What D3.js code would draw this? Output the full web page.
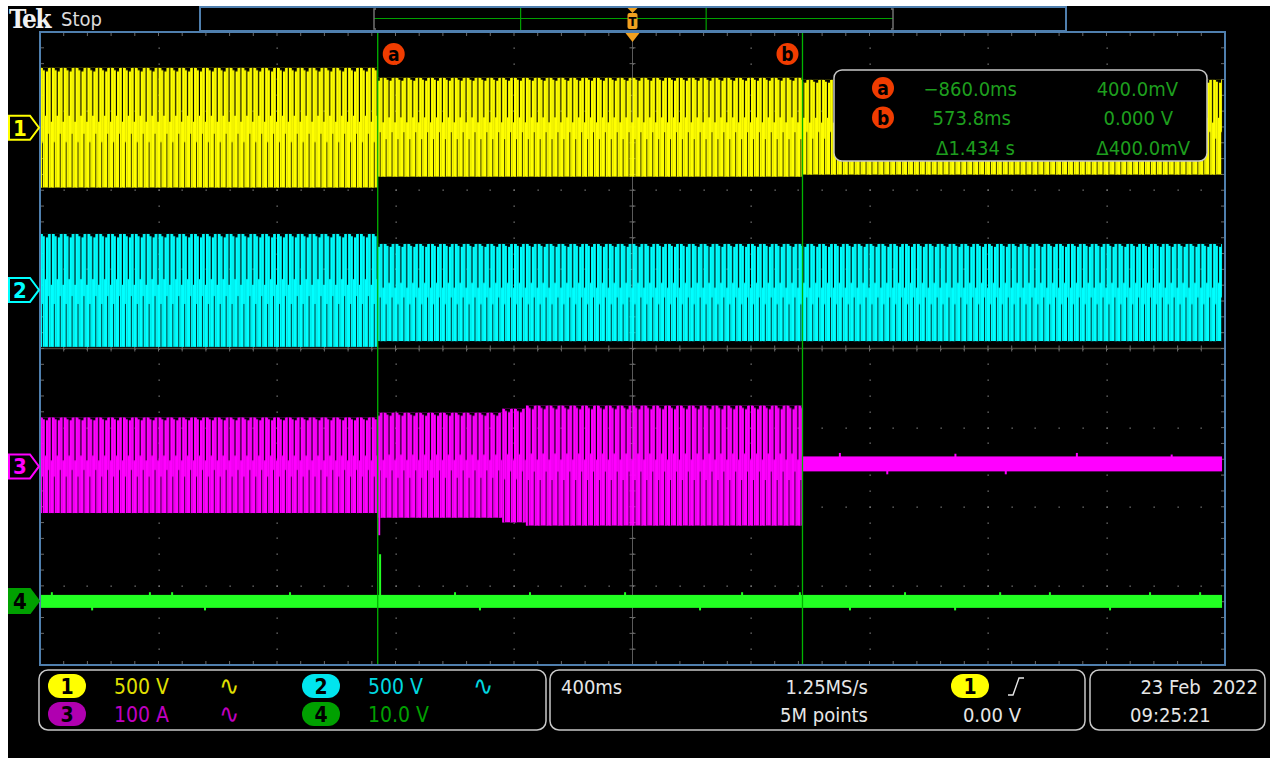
<!DOCTYPE html>
<html><head><meta charset="utf-8">
<script src="https://cdn.jsdelivr.net/npm/d3@7"></script>
<style>
html,body{margin:0;padding:0;background:#fff;}
svg{display:block}
text{font-family:"DejaVu Sans Condensed","DejaVu Sans",sans-serif;font-stretch:condensed;}
</style>
</head><body>
<svg id="c" width="1280" height="764"></svg>
<script>
// ================= DATA =================
const channelNames   = ["1", "2", "3", "4"];
const channelColors  = ["#ffff00", "#00ffff", "#ff00ff", "#22ff22"];
const badgeColors    = ["#ffff00", "#00e5ee", "#b000b0", "#00a000"];
const labelColors    = ["#e0e000", "#00d8e0", "#c000c0", "#00a000"];
const scaleLabels    = ["500 V", "500 V", "100 A", "10.0 V"];
const unitsPerDiv    = [500, 500, 100, 10];
const positionDiv    = [2.79, 0.74, -1.49, -3.19];   // channel ground marker (divisions from centre)

const timeDomainMs   = [-2000, 2000];                // 400 ms/div, 10 divisions
const cursorTimesMs  = [-860.0, 573.8];
const cursorLabels   = ["a", "b"];

// Envelope segments (piecewise constant): segment i spans times[i]..times[i+1]
const ch1Times = [-2000, -860, 573.8, 1990];
const ch1Hi    = [379, 316, 303];
const ch1Lo    = [-379, -310, -297];

const ch2Times = [-2000, -860, 1990];
const ch2Hi    = [354, 291];
const ch2Lo    = [-360, -324];

const ch3Times = [-2000, -860, -440, -360, 573.8, 1990];
const ch3Hi    = [62, 68, 73, 77, 12.6];
const ch3Lo    = [-59, -65, -71, -75, -6.3];

const ch4Times = [-2000, 1990];
const ch4Hi    = [0.76];
const ch4Lo    = [-0.88];

// Glitches (time ms, value)
const ch3SpikeT = [-855, 700, 860, 1090, 1260, 1500, 1820];
const ch3SpikeV = [-87, 17, -10, 16, -10, 17, 15];
const ch4SpikeT = [-1960, -1824, -1629, -1554, -1443, -1156, -852, -599, -515, -346, -25, 228, 370, 565, 734, 920, 1089, 1241, 1409, 1612, 1747, 1916];
const ch4SpikeV = [1.1, -1.2, 1.1, 1.1, -1.2, 1.1, 5.9, 1.1, -1.2, 1.1, 1.1, -1.2, 1.1, 1.1, -1.2, 1.1, -1.2, 1.1, 1.1, -1.2, 1.1, 1.1];

const readoutRows = [
  ["a", "\u2212860.0ms", "400.0mV"],
  ["b", "573.8ms", "0.000 V"],
  ["",  "\u0394" + "1.434 s", "\u0394" + "400.0mV"]
];
const horizLabels  = ["400ms", "1.25MS/s", "5M points"];
const trigLabels   = ["1", "0.00 V"];
const dateLabels   = ["23 Feb  2022", "09:25:21"];

// ================= LAYOUT =================
const svg = d3.select("#c");
const G = {x0: 40, x1: 1225, y0: 32, y1: 665};
const nDivX = 10, nDivY = 8;
const divW = (G.x1 - G.x0) / nDivX, divH = (G.y1 - G.y0) / nDivY;
const x = d3.scaleLinear().domain(timeDomainMs).range([G.x0, G.x1]);
const yDiv = d3.scaleLinear().domain([-nDivY/2, nDivY/2]).range([G.y1, G.y0]);
const yCh = i => v => yDiv(positionDiv[i] + v / unitsPerDiv[i]);

// screen background
svg.append("rect").attr("x", 8).attr("y", 6).attr("width", 1262).attr("height", 752).attr("fill", "#000");

// Tek Stop
svg.append("text").attr("x", 9).attr("y", 28).attr("fill", "#f2f2f2")
  .style("font-family", "'DejaVu Serif','Liberation Serif',serif").style("font-weight", "bold")
  .style("font-size", "26px").style("letter-spacing", "-1.5px").text("Tek");
svg.append("text").attr("x", 61).attr("y", 26).attr("fill", "#dcdcdc").style("font-size", "20px").text("Stop");

// record view bar
svg.append("rect").attr("x", 200).attr("y", 7).attr("width", 866).attr("height", 24)
  .attr("fill", "#000").attr("stroke", "#4f7fae").attr("stroke-width", 2);
const recX = d3.scaleLinear().domain([-1, 1]).range([374, 893]);
svg.append("line").attr("x1", recX(-1)).attr("x2", recX(1)).attr("y1", 18.5).attr("y2", 18.5).attr("stroke", "#00a000").attr("stroke-width", 1.2);
[-1, 1].forEach(s => {
  svg.append("path").attr("d", `M${recX(s) - 2*s},9 L${recX(s)},9 L${recX(s)},29 L${recX(s) - 2*s},29`)
    .attr("fill", "none").attr("stroke", "#707070").attr("stroke-width", 1.5);
});
[-0.435, 0.28].forEach(v => {
  svg.append("line").attr("x1", recX(v)).attr("x2", recX(v)).attr("y1", 8).attr("y2", 30).attr("stroke", "#00a000").attr("stroke-width", 1.2);
});
const tX = x(0);
svg.append("path").attr("d", `M${tX-5},8 L${tX+5},8 L${tX},13 Z`).attr("fill", "#f0a020");
svg.append("rect").attr("x", tX-5).attr("y", 13).attr("width", 10).attr("height", 16).attr("rx", 2).attr("fill", "#f0a020");
svg.append("text").attr("x", tX).attr("y", 26).attr("text-anchor", "middle").attr("fill", "#000").style("font-size", "13px").style("font-weight", "bold").text("T");

// graticule
const grat = svg.append("g");
grat.append("rect").attr("x", G.x0).attr("y", G.y0).attr("width", G.x1 - G.x0).attr("height", G.y1 - G.y0).attr("fill", "#000");
const dotColor = "#7a7a7a";
const dots = [];
for (let i = 1; i < nDivX; i++) for (let j = 1; j < nDivY * 5; j++) dots.push([G.x0 + i*divW, G.y0 + j*divH/5]);
for (let k = 1; k < nDivY; k++) for (let j = 1; j < nDivX * 5; j++) dots.push([G.x0 + j*divW/5, G.y0 + k*divH]);
grat.selectAll("rect.dot").data(dots).join("rect").attr("class", "dot")
  .attr("x", d => Math.round(d[0]) - 0.5).attr("y", d => Math.round(d[1]) - 0.5).attr("width", 1.3).attr("height", 1.3).attr("fill", dotColor);
// center lines
grat.append("line").attr("x1", tX).attr("x2", tX).attr("y1", G.y0).attr("y2", G.y1).attr("stroke", "#5a5a5a").attr("stroke-width", 1);
grat.append("line").attr("x1", G.x0).attr("x2", G.x1).attr("y1", yDiv(0)).attr("y2", yDiv(0)).attr("stroke", "#4a463a").attr("stroke-width", 1.5);
const ticks = [];
for (let j = 1; j < nDivX * 5; j++) { const xx = G.x0 + j*divW/5; ticks.push([xx, G.y0, xx, G.y0 + 4]); ticks.push([xx, G.y1, xx, G.y1 - 4]); ticks.push([xx, yDiv(0)-3, xx, yDiv(0)+3]); }
for (let j = 1; j < nDivY * 5; j++) { const yy = G.y0 + j*divH/5; ticks.push([G.x0, yy, G.x0 + 4, yy]); ticks.push([G.x1, yy, G.x1 - 4, yy]); ticks.push([tX-3, yy, tX+3, yy]); }
grat.selectAll("line.tk").data(ticks).join("line").attr("class", "tk")
  .attr("x1", d => d[0]).attr("y1", d => d[1]).attr("x2", d => d[2]).attr("y2", d => d[3])
  .attr("stroke", "#6a6a6a").attr("stroke-width", 1);

// ================= WAVEFORMS =================
const defs = svg.append("defs");
const period = divW / 20;          // ~50 Hz carrier at 400 ms/div (display texture only)
const wave = svg.append("g");
const envData = [
  [ch1Times, ch1Hi, ch1Lo],
  [ch2Times, ch2Hi, ch2Lo],
  [ch3Times, ch3Hi, ch3Lo],
  [ch4Times, ch4Hi, ch4Lo]
];
envData.forEach(([times, hi, lo], ci) => {
  const y = yCh(ci);
  hi.forEach((h, si) => {
    const xa = x(times[si]), xb = x(times[si + 1]);
    const top = y(h), bot = y(lo[si]), H = bot - top;
    const col = channelColors[ci];
    if (H < 20) {
      wave.append("rect").attr("x", xa).attr("y", top).attr("width", xb - xa).attr("height", H).attr("fill", col);
      return;
    }
    const pid = `p${ci}_${si}`;
    const w = period * 2;   // two-cycle tile with slightly differing strokes (aliasing look)
    const p = defs.append("pattern").attr("id", pid).attr("patternUnits", "userSpaceOnUse")
      .attr("x", G.x0).attr("y", top).attr("width", w).attr("height", H);
    const parts = [
      // [x, width, yFrac, hFrac]
      [0.00, 0.17, 0.00, 1.00],
      [0.17, 0.07, 0.00, 0.62],
      [0.24, 0.16, 0.02, 0.98],
      [0.40, 0.10, 0.40, 0.60],
      [0.50, 0.17, 0.03, 0.97],
      [0.67, 0.07, 0.00, 0.55],
      [0.74, 0.16, 0.00, 1.00],
      [0.90, 0.10, 0.45, 0.55]
    ];
    parts.forEach(q => p.append("rect").attr("x", q[0]*w).attr("width", q[1]*w + 0.05)
      .attr("y", q[2]*H).attr("height", q[3]*H).attr("fill", col));
    wave.append("rect").attr("x", xa).attr("y", top).attr("width", xb - xa).attr("height", H).attr("fill", `url(#${pid})`);
  });
});
// glitches
const y3 = yCh(2), y4 = yCh(3);
wave.selectAll("line.s3").data(ch3SpikeT.map((t, i) => [t, ch3SpikeV[i]])).join("line").attr("class", "s3")
  .attr("x1", d => x(d[0])).attr("x2", d => x(d[0])).attr("y1", y3(0)).attr("y2", d => y3(d[1]))
  .attr("stroke", channelColors[2]).attr("stroke-width", 2);
wave.selectAll("line.s4").data(ch4SpikeT.map((t, i) => [t, ch4SpikeV[i]])).join("line").attr("class", "s4")
  .attr("x1", d => x(d[0])).attr("x2", d => x(d[0])).attr("y1", y4(0)).attr("y2", d => y4(d[1]))
  .attr("stroke", channelColors[3]).attr("stroke-width", 2);

// border
svg.append("rect").attr("x", G.x0).attr("y", G.y0).attr("width", G.x1 - G.x0).attr("height", G.y1 - G.y0)
  .attr("fill", "none").attr("stroke", "#4f7fae").attr("stroke-width", 2);

// trigger arrow below border
svg.append("path").attr("d", `M${tX-7},33 L${tX+7},33 L${tX},42 Z`).attr("fill", "#f0a020");

// cursors
cursorTimesMs.forEach((t, i) => {
  const cx = x(t);
  svg.append("line").attr("x1", cx).attr("x2", cx).attr("y1", G.y0 + 1).attr("y2", G.y1 - 1).attr("stroke", "#00b400").attr("stroke-width", 1.3);
  svg.append("circle").attr("cx", cx + (i === 0 ? 16 : -15)).attr("cy", 54).attr("r", 11).attr("fill", "#f03c00");
  svg.append("text").attr("x", cx + (i === 0 ? 16 : -15)).attr("y", 61).attr("text-anchor", "middle").attr("fill", "#000")
    .style("font-size", "19px").style("font-weight", "bold").text(cursorLabels[i]);
});

// channel markers
channelNames.forEach((n, i) => {
  const yy = yDiv(positionDiv[i]);
  const filled = i === 3;
  svg.append("path").attr("d", `M9,${yy-12} L30,${yy-12} L39,${yy} L30,${yy+12} L9,${yy+12} Z`)
    .attr("fill", filled ? badgeColors[i] : "#000").attr("stroke", filled ? badgeColors[i] : channelColors[i]).attr("stroke-width", 2);
  svg.append("text").attr("x", 20).attr("y", yy + 8).attr("text-anchor", "middle")
    .attr("fill", filled ? "#000" : channelColors[i]).style("font-size", "22px").style("font-weight", "bold").text(n);
});

// cursor readout box
const rb = svg.append("g");
rb.append("rect").attr("x", 834).attr("y", 70).attr("width", 373).attr("height", 91).attr("rx", 8)
  .attr("fill", "#000").attr("stroke", "#c8c8c8").attr("stroke-width", 1.5);
const rowY = d3.scalePoint().domain([0, 1, 2]).range([88, 147]);
const col1End = [1017, 1011, 1015], col2End = [1178, 1173, 1190];
readoutRows.forEach((r, i) => {
  const yy = rowY(i);
  if (r[0]) {
    rb.append("circle").attr("cx", 883).attr("cy", yy).attr("r", 11).attr("fill", "#f03c00");
    rb.append("text").attr("x", 883).attr("y", yy + 7).attr("text-anchor", "middle").attr("fill", "#000")
      .style("font-size", "19px").style("font-weight", "bold").text(r[0]);
  }
  rb.append("text").attr("x", col1End[i]).attr("y", yy + 7.5).attr("text-anchor", "end").attr("fill", "#1e9e1e").style("font-size", "20px").text(r[1]);
  rb.append("text").attr("x", col2End[i]).attr("y", yy + 7.5).attr("text-anchor", "end").attr("fill", "#1e9e1e").style("font-size", "20px").text(r[2]);
});

// ================= STATUS BAR =================
const sb = svg.append("g");
const boxStroke = "#c8c8c8";
[[39, 546], [550, 1085], [1090, 1265]].forEach(b => {
  sb.append("rect").attr("x", b[0]).attr("y", 670).attr("width", b[1] - b[0]).attr("height", 60).attr("rx", 9)
    .attr("fill", "#000").attr("stroke", boxStroke).attr("stroke-width", 1.5);
});
const row1 = 686, row2 = 714;
const chSlot = [[48, row1], [302, row1], [48, row2], [302, row2]];
channelNames.forEach((n, i) => {
  const [bx, by] = chSlot[i];
  sb.append("rect").attr("x", bx).attr("y", by - 12).attr("width", 38).attr("height", 24).attr("rx", 12).attr("fill", badgeColors[i]);
  sb.append("text").attr("x", bx + 19).attr("y", by + 8).attr("text-anchor", "middle").attr("fill", "#000").style("font-size", "21px").style("font-weight", "bold").text(n);
  sb.append("text").attr("x", bx + 66).attr("y", by + 8).attr("fill", labelColors[i]).style("font-size", "21px").text(scaleLabels[i]);
  if (i < 3) sb.append("text").attr("x", bx + 171).attr("y", by + 9).attr("fill", labelColors[i]).style("font-size", "27px").text("\u223F");
});
const wt = "#e6e6e6";
sb.append("text").attr("x", 561).attr("y", row1 + 8).attr("fill", wt).style("font-size", "20px").text(horizLabels[0]);
sb.append("text").attr("x", 868).attr("y", row1 + 8).attr("text-anchor", "end").attr("fill", wt).style("font-size", "20px").text(horizLabels[1]);
sb.append("text").attr("x", 868).attr("y", row2 + 8).attr("text-anchor", "end").attr("fill", wt).style("font-size", "20px").text(horizLabels[2]);
sb.append("rect").attr("x", 951).attr("y", row1 - 12).attr("width", 38).attr("height", 24).attr("rx", 12).attr("fill", "#ffff00");
sb.append("text").attr("x", 970).attr("y", row1 + 8).attr("text-anchor", "middle").attr("fill", "#000").style("font-size", "21px").style("font-weight", "bold").text(trigLabels[0]);
sb.append("path").attr("d", `M1008,${row1+9} L1013,${row1+9} L1019,${row1-8} L1024,${row1-8}`).attr("fill", "none").attr("stroke", wt).attr("stroke-width", 1.4);
sb.append("text").attr("x", 1021).attr("y", row2 + 8).attr("text-anchor", "end").attr("fill", wt).style("font-size", "20px").text(trigLabels[1]);
sb.append("text").attr("x", 1258).attr("y", row1 + 8).attr("text-anchor", "end").attr("fill", wt).style("font-size", "20px").style("white-space", "pre").text(dateLabels[0]);
sb.append("text").attr("x", 1130).attr("y", row2 + 8).attr("fill", wt).style("font-size", "20px").text(dateLabels[1]);
</script>
</body></html>
